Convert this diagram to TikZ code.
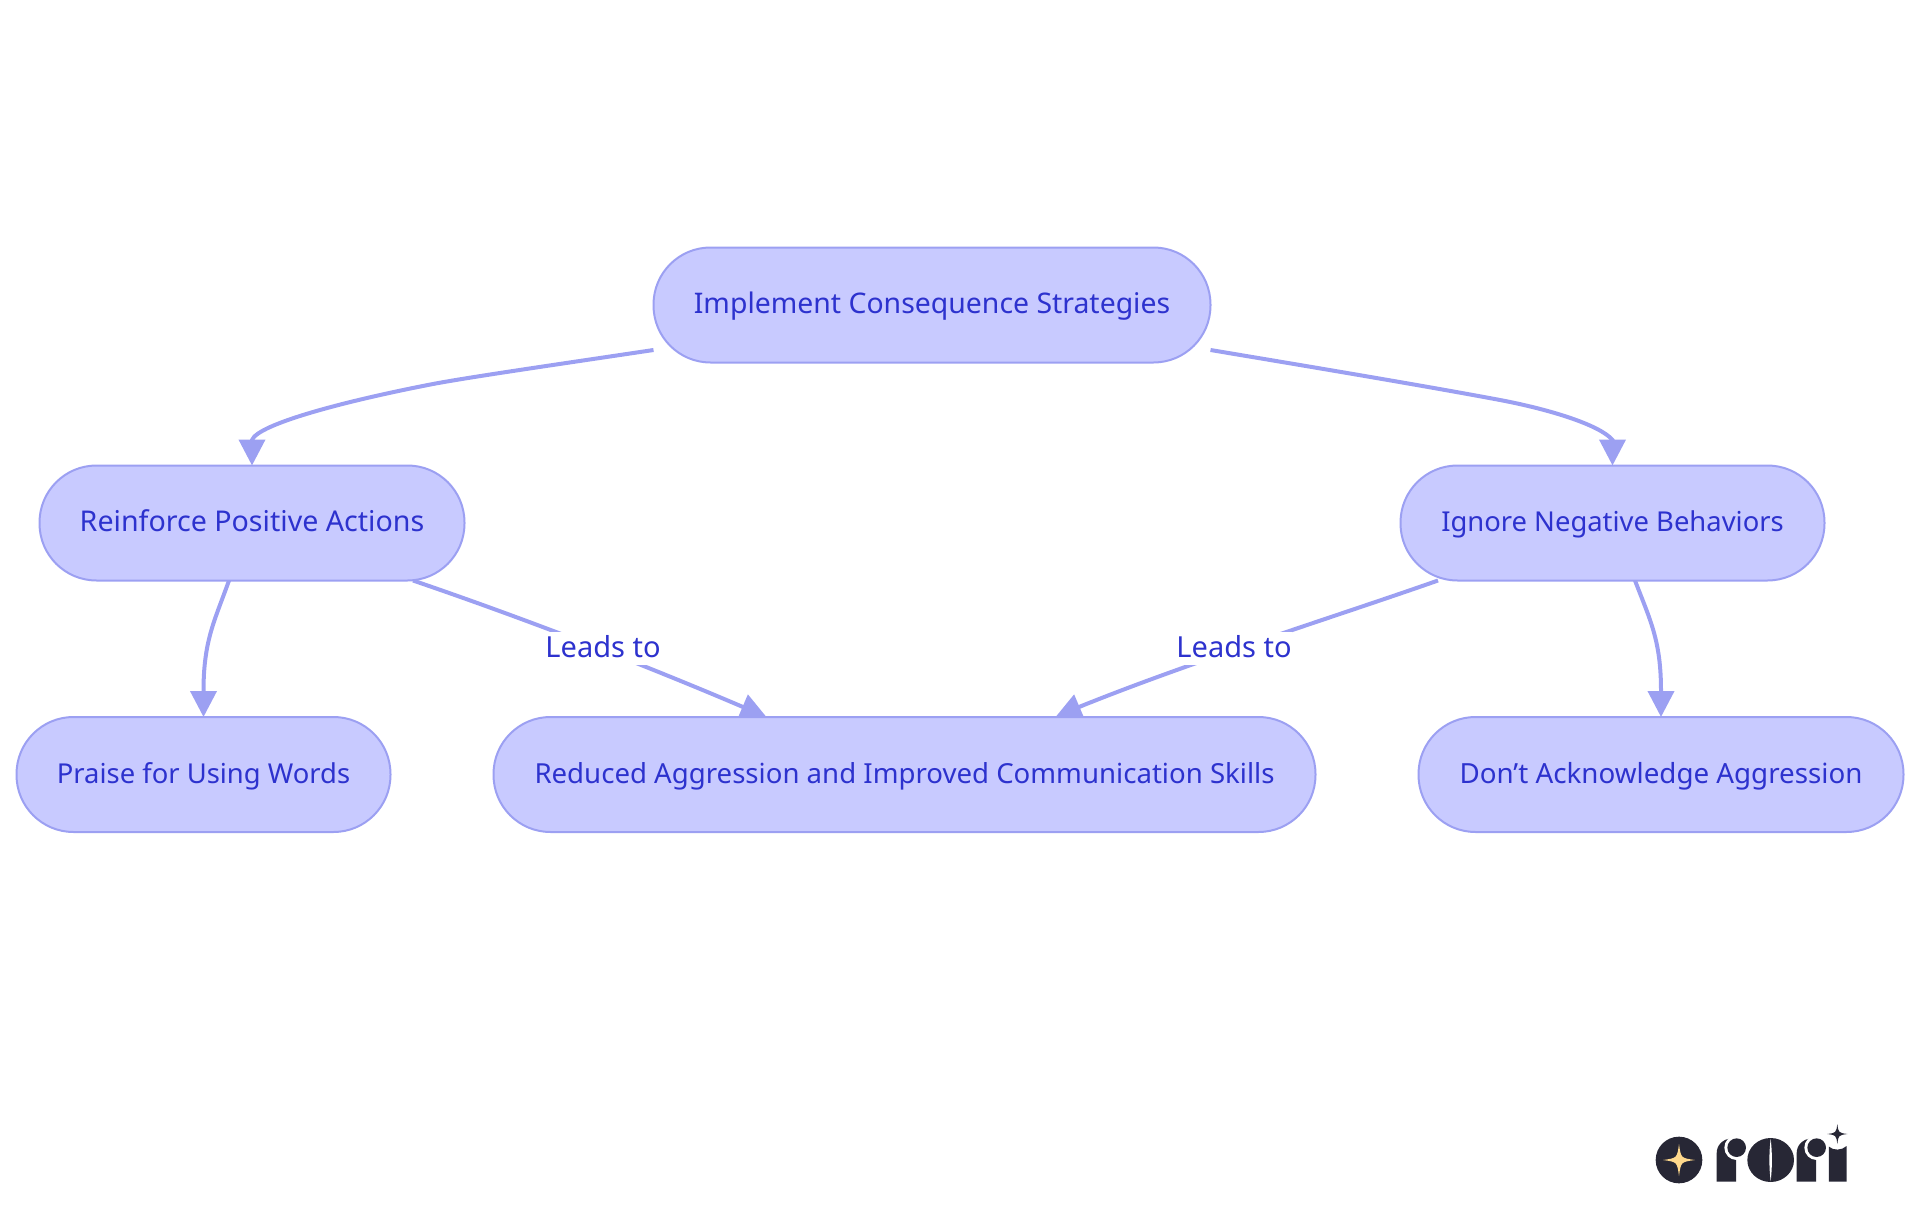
\documentclass[tikz,border=0pt]{standalone}
\usepackage{fontspec}
\setmainfont{Noto Sans}
\usetikzlibrary{arrows.meta,calc}
\definecolor{nfill}{HTML}{C8CAFF}
\definecolor{nline}{HTML}{9CA0F2}
\definecolor{ntext}{HTML}{2D32CE}
\definecolor{logod}{HTML}{272735}
\definecolor{logos}{HTML}{FFD98C}
\pgfdeclarelayer{edges}
\pgfsetlayers{edges,main}
\newcommand\mysparkle[4]{\fill[#4] (#1,{#2-#3}) .. controls ({#1+.12*#3},{#2-.12*#3}) .. ({#1+#3},#2) .. controls ({#1+.12*#3},{#2+.12*#3}) .. (#1,{#2+#3}) .. controls ({#1-.12*#3},{#2+.12*#3}) .. ({#1-#3},#2) .. controls ({#1-.12*#3},{#2-.12*#3}) .. cycle;}
\tikzset{
  fsize/.style={font=\fontsize{#1}{34}\selectfont},
  pill/.style={draw=nline,fill=nfill,line width=2pt,rounded corners=57pt,minimum height=115pt,text=ntext,inner sep=0pt,outer sep=0pt,text height=22pt,text depth=5pt},
  conn/.style={draw=nline,line width=4pt,-{Triangle[length=26pt,width=26pt]}},
  lbl/.style={fill=white,text=ntext,inner sep=0pt,minimum height=33pt,fsize=29,text height=22pt,text depth=5pt}
}
\begin{document}
\begin{tikzpicture}[x=1pt,y=-1pt]
\useasboundingbox (0,0) rectangle (1920,1215);
\node[pill,fsize=28.4,minimum width=557pt] (top) at (932,305) {Implement Consequence Strategies};
\node[pill,fsize=28.6,minimum width=425pt] (rein) at (252,523) {Reinforce Positive Actions};
\node[pill,fsize=27.4,minimum width=424pt] (ign) at (1612.5,523) {Ignore Negative Behaviors};
\node[pill,fsize=27.4,minimum width=374pt] (praise) at (203.5,774.5) {Praise for Using Words};
\node[pill,fsize=27.6,minimum width=822pt] (red) at (904.5,774.5) {Reduced Aggression and Improved Communication Skills};
\node[pill,fsize=27.75,minimum width=485pt] (dont) at (1661,774.5) {Don’t Acknowledge Aggression};
\node[lbl] (l1) at (603,648.5) {Leads to};
\node[lbl] (l2) at (1234,648.5) {Leads to};
\begin{pgfonlayer}{edges}
\draw[conn] ($(top.west)+(0,45)$) .. controls (560,364) and (470,377) .. (433,384) .. controls (345,401) and (258,424) .. (252,440) -- (rein.north);
\draw[conn] ($(top.east)+(0,45)$) .. controls (1300,365) and (1420,385) .. (1500,400) .. controls (1550,409.5) and (1600,425) .. (1612.5,440) -- (ign.north);
\draw[conn] ($(rein.south)+(-23,0)$) .. controls (215,620) and (203.5,640) .. (203.5,691) -- (praise.north);
\draw[conn] ($(ign.south)+(22.5,0)$) .. controls (1650,620) and (1661,640) .. (1661,691) -- (dont.north);
\draw[conn] ($(rein.south)+(161,0)$) .. controls (520,617) and (640,663) .. (743,707) -- ($(red.north west)+(273,0)$);
\draw[conn] ($(ign.south)+(-174.5,0)$) .. controls (1340,615) and (1190,662) .. (1079,707) -- ($(red.north east)+(-260,0)$);
\end{pgfonlayer}
\begin{scope}[shift={(1630,1110)},x=0.3333pt,y=-0.3333pt]
\fill[logod] (147,150) circle[radius=70];
\mysparkle{147}{150}{48}{logos}
\foreach \dx in {0,240}{
\begin{scope}[xshift=\dx*0.3333pt]
\fill[logod] (260,215) -- (260,130) .. controls (260,105) and (278,87) .. (305,85) -- (318,150) -- (318,215) -- cycle;
\fill[white] (320,113) circle[radius=37];
\fill[logod] (320,113) circle[radius=28];
\end{scope}}
\fill[logod] (422,150) ellipse[x radius=70,y radius=66];
\fill[white] (422,86) .. controls (417,130) and (417,170) .. (422,214) .. controls (427,170) and (427,130) .. (422,86);
\fill[logod] (597,215) -- (597,110) .. controls (610,122) and (635,122) .. (650,108) -- (650,215) -- cycle;
\mysparkle{622}{72}{30}{logod}
\end{scope}
\end{tikzpicture}
\end{document}
